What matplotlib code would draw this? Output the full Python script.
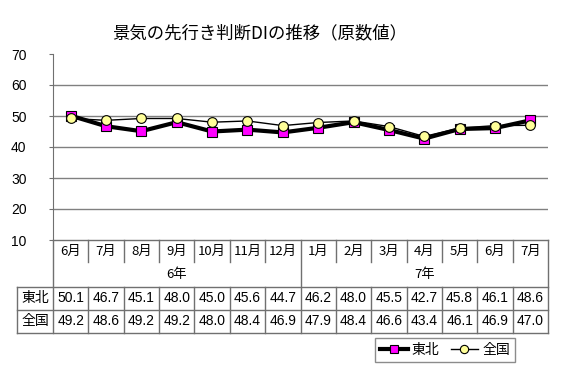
import numpy as np
import matplotlib
matplotlib.use('Agg')
import matplotlib.pyplot as plt

plt.rcParams['font.family'] = ['Noto Sans CJK JP', 'DejaVu Sans']

months = ['6月', '7月', '8月', '9月', '10月', '11月', '12月',
          '1月', '2月', '3月', '4月', '5月', '6月', '7月']
years = ['6年', '7年']
year_span = [7, 7]
tohoku = [50.1, 46.7, 45.1, 48.0, 45.0, 45.6, 44.7, 46.2, 48.0, 45.5, 42.7, 45.8, 46.1, 48.6]
zenkoku = [49.2, 48.6, 49.2, 49.2, 48.0, 48.4, 46.9, 47.9, 48.4, 46.6, 43.4, 46.1, 46.9, 47.0]
row_names = ['東北', '全国']

W, H = 564, 382
fig = plt.figure(figsize=(W / 100, H / 100), dpi=100)

def px(x0, y0, x1, y1):
    return [x0 / W, 1 - y1 / H, (x1 - x0) / W, (y1 - y0) / H]

n = len(months)
xs = np.arange(n) + 0.5
line_col = '#707070'
num_font = ['Liberation Sans', 'DejaVu Sans']

# grafico
ax = fig.add_axes(px(53, 54, 548, 240))
ax.set_xlim(0, n)
ax.set_ylim(10, 70)
ax.set_yticks(range(10, 71, 10))
ax.set_xticks([])
for y in range(20, 61, 10):
    ax.axhline(y, color='#808080', lw=1, zorder=1)
for s in ['top', 'right', 'bottom']:
    ax.spines[s].set_visible(False)
ax.spines['left'].set_color(line_col)
ax.tick_params(axis='y', length=3, color=line_col, pad=16, labelsize=10)
for lab in ax.get_yticklabels():
    lab.set_family(num_font)

l1, = ax.plot(xs, tohoku, '-s', color='black', lw=3, ms=6.5,
              mfc='#FF00FF', mec='black', mew=0.8, label='東北', zorder=3, clip_on=False)
l2, = ax.plot(xs, zenkoku, '-o', color='black', lw=1, ms=7,
              mfc='#FFFF99', mec='black', mew=0.8, label='全国', zorder=4, clip_on=False)

fig.text(260 / W, 1 - 33 / H, '景気の先行き判断DIの推移（原数値）',
         ha='center', va='center', fontsize=12.5)

# tabla
tb = fig.add_axes(px(17, 240, 548, 333))
hw = 36 / (495 / n)
tb.set_xlim(-hw, n)
tb.set_ylim(4, 0)
tb.axis('off')
kw = dict(color=line_col, lw=1, clip_on=False)
tb.plot([0, n], [0, 0], **kw)
tb.plot([0, 0], [0, 4], **kw)
tb.plot([n, n], [0, 4], **kw)
tb.plot([-hw, -hw], [2, 4], **kw)
for y in [2, 3, 4]:
    tb.plot([-hw, n], [y, y], **kw)
edge = 0
for span in year_span[:-1]:
    edge += span
    tb.plot([edge, edge], [0, 4], **kw)
for i in range(1, n):
    if i != edge:
        tb.plot([i, i], [0, 0.95], **kw)
        tb.plot([i, i], [2, 4], **kw)

fs = 9.5
for i, m in enumerate(months):
    tb.text(i + 0.5, 0.5, m, ha='center', va='center', fontsize=fs)
start = 0
for yname, span in zip(years, year_span):
    tb.text(start + span / 2, 1.5, yname, ha='center', va='center', fontsize=fs)
    start += span
for r, (name, vals) in enumerate(zip(row_names, [tohoku, zenkoku])):
    tb.text(-hw / 2, 2.5 + r, name, ha='center', va='center', fontsize=10)
    for i, v in enumerate(vals):
        tb.text(i + 0.5, 2.5 + r, f'{v:.1f}', ha='center', va='center',
                fontsize=10, family=num_font)

leg = fig.legend(handles=[l1, l2], loc='center', bbox_to_anchor=(445 / W, 1 - 350 / H),
                 ncol=2, fontsize=10, frameon=True, fancybox=False, edgecolor=line_col,
                 handlelength=2.0, columnspacing=0.8, handletextpad=0.3, borderpad=0.35,
                 markerscale=0.85)
leg.get_frame().set_linewidth(1)

fig.savefig('out.png', dpi=100)
